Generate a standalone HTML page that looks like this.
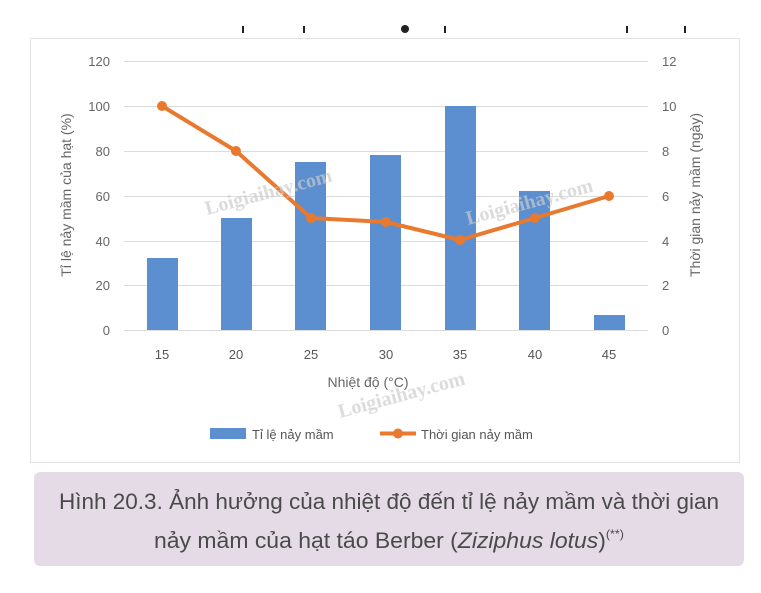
<!DOCTYPE html>
<html><head><meta charset="utf-8"><style>
body{margin:0;background:#fff;width:761px;height:588px;overflow:hidden;font-family:"Liberation Sans",sans-serif}
</style></head><body>
<svg width="761" height="588" xmlns="http://www.w3.org/2000/svg" font-family="Liberation Sans, sans-serif">
<rect width="761" height="588" fill="#fff"/>
<g fill="#222"><rect x="242" y="26" width="2" height="7"/><rect x="303" y="26" width="2" height="7"/><circle cx="405" cy="29" r="4"/><rect x="444" y="26" width="2" height="7"/><rect x="626" y="26" width="2" height="7"/><rect x="684" y="26" width="2" height="7"/></g>
<rect x="30.5" y="38.5" width="709" height="424" fill="#fff" stroke="#e2e2e2"/>
<g stroke="#dcdcdc" stroke-width="1">
<line x1="124" x2="648" y1="61.5" y2="61.5"/><line x1="124" x2="648" y1="106.5" y2="106.5"/><line x1="124" x2="648" y1="151.5" y2="151.5"/><line x1="124" x2="648" y1="196.5" y2="196.5"/><line x1="124" x2="648" y1="241.5" y2="241.5"/><line x1="124" x2="648" y1="285.5" y2="285.5"/><line x1="124" x2="648" y1="330.5" y2="330.5"/>
</g>
<g fill="#666" font-size="13" text-anchor="end">
<text x="110" y="66">120</text><text x="110" y="111">100</text><text x="110" y="156">80</text><text x="110" y="201">60</text><text x="110" y="246">40</text><text x="110" y="290">20</text><text x="110" y="335">0</text>
</g>
<g fill="#666" font-size="13">
<text x="662" y="66">12</text><text x="662" y="111">10</text><text x="662" y="156">8</text><text x="662" y="201">6</text><text x="662" y="246">4</text><text x="662" y="290">2</text><text x="662" y="335">0</text>
</g>
<g fill="#5b8fcf">
<rect x="147" y="258" width="31" height="72"/>
<rect x="221" y="218" width="31" height="112"/>
<rect x="295" y="162" width="31" height="168"/>
<rect x="370" y="155" width="31" height="175"/>
<rect x="445" y="106" width="31" height="224"/>
<rect x="519" y="191" width="31" height="139"/>
<rect x="594" y="315" width="31" height="15"/>
</g>
<polyline points="162,106 236,151 311,218 386,222 460,240 535,218 609,196" fill="none" stroke="#e8792f" stroke-width="4" stroke-linejoin="round"/>
<g fill="#e8792f"><circle cx="162" cy="106" r="5"/><circle cx="236" cy="151" r="5"/><circle cx="311" cy="218" r="5"/><circle cx="386" cy="222" r="5"/><circle cx="460" cy="240" r="5"/><circle cx="535" cy="218" r="5"/><circle cx="609" cy="196" r="5"/></g>
<g fill="#555" font-size="13" text-anchor="middle">
<text x="162" y="359">15</text><text x="236" y="359">20</text><text x="311" y="359">25</text><text x="386" y="359">30</text><text x="460" y="359">35</text><text x="535" y="359">40</text><text x="609" y="359">45</text>
</g>
<text x="368" y="387" fill="#666" font-size="14" text-anchor="middle">Nhiệt độ (°C)</text>
<text transform="translate(71,195) rotate(-90)" fill="#666" font-size="14" text-anchor="middle">Tỉ lệ nảy mầm của hạt (%)</text>
<text transform="translate(700,195) rotate(-90)" fill="#666" font-size="14" text-anchor="middle">Thời gian nảy mầm (ngày)</text>
<g fill="#ccc" font-size="20" font-weight="bold" font-family="Liberation Serif, serif" opacity="0.7">
<text transform="translate(207,215) rotate(-15)">Loigiaihay.com</text>
<text transform="translate(468,225) rotate(-15)">Loigiaihay.com</text>
<text transform="translate(340,418) rotate(-15)">Loigiaihay.com</text>
</g>
<rect x="210" y="428" width="36" height="11" fill="#5b8fcf"/>
<text x="252" y="439" fill="#555" font-size="13">Tỉ lệ nảy mầm</text>
<line x1="380" x2="416" y1="433.5" y2="433.5" stroke="#e8792f" stroke-width="4"/><circle cx="398" cy="433.5" r="5" fill="#e8792f"/>
<text x="421" y="439" fill="#555" font-size="13">Thời gian nảy mầm</text>
<rect x="34" y="472" width="710" height="94" rx="6" fill="#e4dbe7"/>
<text x="389" y="509" fill="#4a4a4a" font-size="22" text-anchor="middle" textLength="660" lengthAdjust="spacingAndGlyphs">Hình 20.3. Ảnh hưởng của nhiệt độ đến tỉ lệ nảy mầm và thời gian</text>
<text x="389" y="548" fill="#4a4a4a" font-size="22" text-anchor="middle" textLength="470" lengthAdjust="spacingAndGlyphs">nảy mầm của hạt táo Berber (<tspan font-style="italic">Ziziphus lotus</tspan>)<tspan font-size="12" dy="-10">(**)</tspan></text>
</svg>
</body></html>
